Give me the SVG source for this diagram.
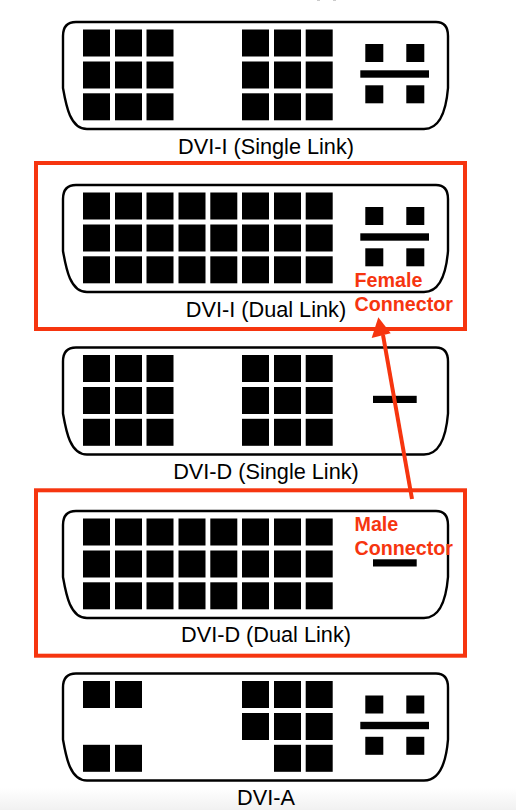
<svg xmlns="http://www.w3.org/2000/svg" width="516" height="810" viewBox="0 0 516 810">
<defs>
<linearGradient id="fade" x1="0" y1="0" x2="0" y2="1"><stop offset="0" stop-color="#ffffff"/><stop offset="1" stop-color="#f1f1f1"/></linearGradient>
<path id="shell" d="M76 22H436Q448 22 448 36V88C447 100 444 129 424 129H87C70 129 66 105 63 88V36Q63 22 76 22Z"/>
<rect id="p" width="27" height="27"/>
<g id="analog">
<rect class="k" x="365.3" y="44" width="18" height="18"/><rect class="k" x="406.3" y="44" width="18" height="18"/>
<rect class="k" x="365.3" y="85.3" width="18" height="18"/><rect class="k" x="406.3" y="85.3" width="18" height="18"/>
<rect class="k" x="360.3" y="70.3" width="68.7" height="7.4"/>
</g>
<g id="flat"><rect class="k" x="373" y="70.3" width="43.7" height="7.2"/></g>
<g id="left3">
<use href="#p" x="83" y="29.5"/><use href="#p" x="115" y="29.5"/><use href="#p" x="146.5" y="29.5"/>
<use href="#p" x="83" y="61.5"/><use href="#p" x="115" y="61.5"/><use href="#p" x="146.5" y="61.5"/>
<use href="#p" x="83" y="93.3"/><use href="#p" x="115" y="93.3"/><use href="#p" x="146.5" y="93.3"/>
</g>
<g id="mid2">
<use href="#p" x="178.5" y="29.5"/><use href="#p" x="210.3" y="29.5"/>
<use href="#p" x="178.5" y="61.5"/><use href="#p" x="210.3" y="61.5"/>
<use href="#p" x="178.5" y="93.3"/><use href="#p" x="210.3" y="93.3"/>
</g>
<g id="right3">
<use href="#p" x="242" y="29.5"/><use href="#p" x="274" y="29.5"/><use href="#p" x="305.7" y="29.5"/>
<use href="#p" x="242" y="61.5"/><use href="#p" x="274" y="61.5"/><use href="#p" x="305.7" y="61.5"/>
<use href="#p" x="242" y="93.3"/><use href="#p" x="274" y="93.3"/><use href="#p" x="305.7" y="93.3"/>
</g>
</defs>
<style>
.s{fill:#fff;stroke:#000;stroke-width:2.4}
.k,use{fill:#000}
.l{font-family:"Liberation Sans",Arial,sans-serif;font-size:21.7px;fill:#000;text-anchor:middle}
.r{font-family:"Liberation Sans",Arial,sans-serif;font-size:19.7px;font-weight:bold;fill:#f6350f}
.b{fill:none;stroke:#f6350f;stroke-width:4}
</style>
<rect width="516" height="810" fill="#fff"/>
<rect y="788" width="516" height="22" fill="url(#fade)"/>
<rect x="317" y="0" width="3" height="1" fill="#ccc"/><rect x="333" y="0" width="3" height="1" fill="#ccc"/>
<g id="dvi-i-single">
<use href="#shell" class="s"/><use href="#left3"/><use href="#right3"/><use href="#analog"/>
<text class="l" x="266" y="153.700">DVI-I (Single Link)</text>
</g>
<g id="dvi-i-dual" transform="translate(0 163)">
<use href="#shell" class="s"/><use href="#left3"/><use href="#mid2"/><use href="#right3"/><use href="#analog"/>
<text class="l" x="266" y="153.700">DVI-I (Dual Link)</text>
</g>
<g id="dvi-d-single" transform="translate(0 325.5)">
<use href="#shell" class="s"/><use href="#left3"/><use href="#right3"/><use href="#flat"/>
<text class="l" x="266" y="153.700">DVI-D (Single Link)</text>
</g>
<g id="dvi-d-dual" transform="translate(0 489)">
<use href="#shell" class="s"/><use href="#left3"/><use href="#mid2"/><use href="#right3"/><use href="#flat"/>
<text class="l" x="266" y="153.300">DVI-D (Dual Link)</text>
</g>
<g id="dvi-a" transform="translate(0 651.5)">
<use href="#shell" class="s"/>
<use href="#p" x="83" y="29.5"/><use href="#p" x="115" y="29.5"/>
<use href="#p" x="83" y="93.3"/><use href="#p" x="115" y="93.3"/>
<use href="#p" x="242" y="29.5"/><use href="#p" x="274" y="29.5"/><use href="#p" x="305.7" y="29.5"/>
<use href="#p" x="242" y="61.5"/><use href="#p" x="274" y="61.5"/><use href="#p" x="305.7" y="61.5"/>
<use href="#p" x="274" y="93.3"/><use href="#p" x="305.7" y="93.3"/>
<use href="#analog"/>
<text class="l" x="266" y="153.500">DVI-A</text>
</g>
<g id="female-box"><rect class="b" x="36" y="163" width="429" height="166"/>
<text class="r" x="354.5" y="287">Female</text><text class="r" x="354.5" y="311">Connector</text></g>
<g id="male-box"><rect class="b" x="36" y="490.3" width="429" height="165.4"/>
<text class="r" x="354.5" y="531">Male</text><text class="r" x="354.5" y="554.500">Connector</text></g>
<g id="connectors">
<path d="M412 499L383 335" fill="none" stroke="#f6350f" stroke-width="4"/>
<path d="M378.300 317.300L390.700 333.300L371.700 338Z" fill="#f6350f"/>
</g>
</svg>
